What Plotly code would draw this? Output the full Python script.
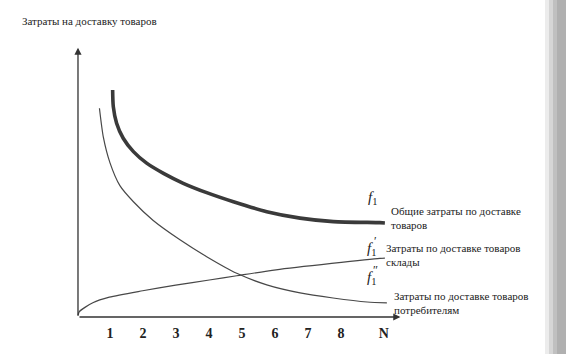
import plotly.graph_objects as go

# --- data ---
total_x = [1.08, 1.10, 1.20, 1.40, 1.71, 2.11, 2.62, 3.22, 3.93, 4.74, 5.75, 6.76, 7.77, 9.18, 9.33]
total_y = [8.47, 7.85, 7.23, 6.67, 6.17, 5.74, 5.36, 4.99, 4.64, 4.30, 3.93, 3.69, 3.56, 3.52, 3.51]

warehouse_x = [0.03, 0.07, 0.48, 0.98, 1.99, 2.99, 4.01, 4.84, 6.03, 9.18, 9.33]
warehouse_y = [0.05, 0.20, 0.53, 0.74, 0.98, 1.19, 1.38, 1.54, 1.76, 2.19, 2.20]

consumer_x = [0.68, 0.80, 1.00, 1.30, 1.71, 2.31, 3.12, 3.93, 4.84, 5.75, 6.76, 7.76, 8.79, 9.39]
consumer_y = [7.79, 6.70, 5.75, 4.90, 4.30, 3.60, 2.88, 2.25, 1.63, 1.20, 0.90, 0.71, 0.56, 0.53]

tick_vals = [1, 2, 3, 4, 5, 6, 7, 8, 9.3]
tick_text = ["1", "2", "3", "4", "5", "6", "7", "8", "N"]

y_title = "Затраты на доставку товаров"
label_total = "Общие затраты по доставке<br>товаров"
label_warehouse = "Затраты по доставке товаров<br>склады"
label_consumer = "Затраты по доставке товаров<br>потребителям"

SERIF = "Liberation Serif"
INK = "#333333"

fig = go.Figure()
fig.add_trace(go.Scatter(x=total_x, y=total_y, mode="lines",
                         line=dict(color="#3a3a3a", width=3.6, shape="spline", smoothing=0.7),
                         hoverinfo="skip"))
fig.add_trace(go.Scatter(x=warehouse_x, y=warehouse_y, mode="lines",
                         line=dict(color="#484848", width=1.2, shape="spline", smoothing=0.7),
                         hoverinfo="skip"))
fig.add_trace(go.Scatter(x=consumer_x, y=consumer_y, mode="lines",
                         line=dict(color="#484848", width=1.2, shape="spline", smoothing=0.7),
                         hoverinfo="skip"))

annotations = []
# axes with arrows
annotations.append(dict(x=9.8, y=0, ax=0.03, ay=0, xref="x", yref="y", axref="x", ayref="y",
                        text="", showarrow=True, arrowhead=2, arrowsize=1.1,
                        arrowwidth=1.3, arrowcolor=INK))
annotations.append(dict(x=0.03, y=10.05, ax=0.03, ay=0, xref="x", yref="y", axref="x", ayref="y",
                        text="", showarrow=True, arrowhead=2, arrowsize=1.1,
                        arrowwidth=1.3, arrowcolor=INK))
# y title
annotations.append(dict(x=20 / 566, y=1 - 24 / 354, xref="paper", yref="paper",
                        text=y_title, showarrow=False, xanchor="left", yanchor="middle",
                        font=dict(family=SERIF, size=11, color="#222")))
# curve names (f labels)
for (xx, yy, prime) in [(8.95, 4.45, ""), (8.93, 2.55, "′"), (8.93, 1.45, "″")]:
    annotations.append(dict(x=xx, y=yy, xref="x", yref="y", text="<i>f</i><sub>1</sub>",
                            showarrow=False, xanchor="center", yanchor="middle",
                            font=dict(family=SERIF, size=15, color="#222")))
    if prime:
        annotations.append(dict(x=xx + 0.12, y=yy + 0.3, xref="x", yref="y", text=prime,
                                showarrow=False, xanchor="center", yanchor="middle",
                                font=dict(family=SERIF, size=12, color="#222")))
# series descriptions
for (xx, yy, txt) in [(9.45, 3.69, label_total), (9.3, 2.33, label_warehouse),
                      (9.55, 0.52, label_consumer)]:
    annotations.append(dict(x=xx, y=yy, xref="x", yref="y", text=txt, showarrow=False,
                            xanchor="left", yanchor="middle", align="left",
                            font=dict(family=SERIF, size=11, color="#222")))

# page edge shading (scan)
shapes = []
edge = [(545, 549, "#ececec"), (549, 553, "#d6d6d6"), (553, 557, "#c0c0c0"),
        (557, 566, "#b0b0b0")]
for x0, x1, c in edge:
    shapes.append(dict(type="rect", xref="paper", yref="paper", x0=x0 / 566, x1=x1 / 566,
                       y0=-0.2, y1=1.2, fillcolor=c, line=dict(width=0), layer="below"))

fig.update_layout(
    width=566, height=354,
    margin=dict(l=0, r=0, t=0, b=37),
    paper_bgcolor="white", plot_bgcolor="rgba(0,0,0,0)",
    showlegend=False,
    xaxis=dict(range=[-77 / 33, 489 / 33], showgrid=False, zeroline=False, showline=False,
               tickvals=tick_vals, ticktext=["<b>%s</b>" % t for t in tick_text],
               ticks="", ticklabelstandoff=6,
               tickfont=dict(family=SERIF, size=14, color="#222"), fixedrange=True),
    yaxis=dict(range=[0, 317 / 26.8], showgrid=False, zeroline=False, showline=False,
               showticklabels=False, fixedrange=True),
    annotations=annotations,
    shapes=shapes,
)

fig.write_html("out.html")
